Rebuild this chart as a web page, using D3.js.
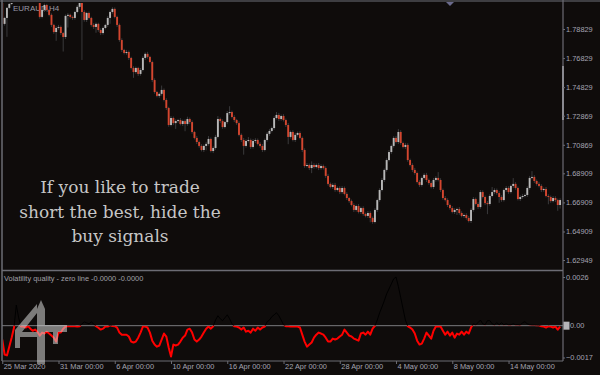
<!DOCTYPE html>
<html><head><meta charset="utf-8">
<script src="https://cdn.jsdelivr.net/npm/d3@7"></script>
<style>html,body{margin:0;padding:0;background:#0f0c0b;overflow:hidden}svg{display:block}</style>
</head><body><svg id="c" width="600" height="375"></svg>
<script>
// ---------- DATA ----------
const symbolLabel = "EURAUD,H4";
const indicatorTitle = "Volatility quality - zero line -0.0000 -0.0000";
const noteLines = ["If you like to trade", "short the best, hide the", "buy signals"];
const firstOpen = 1.8096;
const closes = [
1.7918,1.7959,1.8028,1.8055,1.8116,1.8151,1.8178,1.8206,1.8185,1.8220,
1.8247,1.8206,1.8165,1.8192,1.8151,1.8123,1.7966,1.8014,1.8048,1.8014,
1.7980,1.7911,1.7862,1.7890,1.7897,1.7855,1.7828,1.7973,1.7980,1.7966,
1.7959,1.8000,1.8035,1.8068,1.8000,1.7945,1.7993,1.7959,1.7911,1.7897,
1.7918,1.7876,1.7855,1.7890,1.7911,1.7959,1.8000,1.8021,1.7966,1.7911,
1.7807,1.7739,1.7718,1.7725,1.7684,1.7615,1.7587,1.7615,1.7574,1.7601,
1.7684,1.7712,1.7691,1.7656,1.7532,1.7450,1.7423,1.7437,1.7464,1.7395,
1.7340,1.7223,1.7271,1.7236,1.7250,1.7257,1.7230,1.7250,1.7230,1.7264,
1.7243,1.7175,1.7134,1.7106,1.7079,1.7051,1.7079,1.7093,1.7127,1.7044,
1.7065,1.7141,1.7264,1.7250,1.7209,1.7243,1.7305,1.7312,1.7278,1.7257,
1.7236,1.7155,1.7120,1.7079,1.7113,1.7120,1.7072,1.7113,1.7120,1.7093,
1.7079,1.7051,1.7120,1.7162,1.7182,1.7202,1.7271,1.7292,1.7264,1.7285,
1.7257,1.7223,1.7141,1.7175,1.7120,1.7155,1.7168,1.7134,1.7051,1.6941,
1.6948,1.6927,1.6948,1.6934,1.6948,1.6927,1.6941,1.6927,1.6873,1.6818,
1.6797,1.6811,1.6776,1.6790,1.6762,1.6790,1.6749,1.6721,1.6700,1.6673,
1.6639,1.6666,1.6625,1.6652,1.6611,1.6598,1.6618,1.6584,1.6556,1.6639,
1.6707,1.6776,1.6845,1.6914,1.6982,1.7037,1.7079,1.7134,1.7106,1.7175,
1.7099,1.7072,1.7086,1.6982,1.6948,1.6914,1.6893,1.6831,1.6811,1.6859,
1.6880,1.6845,1.6824,1.6797,1.6845,1.6859,1.6845,1.6776,1.6721,1.6707,
1.6673,1.6652,1.6625,1.6639,1.6645,1.6618,1.6598,1.6604,1.6584,1.6563,
1.6639,1.6714,1.6680,1.6659,1.6762,1.6728,1.6686,1.6680,1.6735,1.6762,
1.6776,1.6755,1.6728,1.6707,1.6776,1.6790,1.6762,1.6804,1.6818,1.6790,
1.6714,1.6728,1.6735,1.6742,1.6790,1.6859,1.6866,1.6838,1.6818,1.6804,
1.6776,1.6783,1.6735,1.6728,1.6700,1.6721,1.6707,1.6673,1.6707];
// upper / lower shadows in pips (0.0001)
const wickUp = [
5,8,6,10,8,6,10,6,8,6, 8,6,10,8,6,8,10,12,10,8, 6,10,8,12,14,10,8,10,12,8,
10,8,12,14,10,12,8,10,8,12, 10,8,12,10,8,14,10,12,10,8, 10,12,8,14,10,8,12,10,8,14,
12,10,14,8,10,12,8,10,30,10, 12,8,14,10,12,8,14,10,12,16, 10,12,8,14,10,12,10,14,20,10,
12,14,20,10,12,8,14,40,10,12, 8,12,10,14,12,20,10,14,12,10, 12,14,10,12,14,10,12,20,14,10,
12,10,14,10,12,14,10,12,10,12, 14,10,25,12,10,14,12,10,12,14, 10,12,14,10,12,14,10,12,8,10,
12,10,14,10,12,10,14,12,10,12, 10,12,14,10,12,14,10,12,14,20, 12,10,14,12,10,12,14,10,12,10,
12,14,10,12,14,12,40,12,10,14, 12,10,14,12,10,14,12,10,12,14, 12,14,10,12,14,12,10,14,12,35,
12,10,14,12,10,14,12,10,40,12, 10,12,14,10,12,14,40,12,10,14, 12,10,14,12,10,14,12,10,12];
const wickDn = [
10,12,130,10,8,10,8,10,8,10, 8,10,8,10,8,10,12,10,14,12, 10,14,12,60,12,14,100,14,80,12,
14,12,10,14,330,12,14,10,12,14, 40,12,14,12,10,14,40,12,10,14, 12,14,10,12,14,10,40,12,14,12,
10,14,12,10,14,12,10,14,12,10, 14,12,10,14,40,12,10,14,50,12, 14,12,10,14,12,10,14,30,12,10,
14,12,10,14,12,10,14,12,10,14, 12,10,14,60,12,10,14,12,14,10, 12,14,10,12,14,10,12,10,14,12,
10,14,50,12,10,14,12,10,14,12, 10,14,35,12,10,14,12,10,14,12, 10,14,12,10,14,12,10,14,12,10,
14,12,10,14,12,10,14,30,12,10, 14,12,10,14,12,10,14,12,10,14, 12,10,14,12,10,14,12,10,14,12,
10,14,12,10,14,12,10,14,12,10, 14,12,10,14,35,12,10,14,12,10, 14,12,10,14,12,10,14,70,12,10,
14,12,40,12,10,14,12,10,14,12, 10,14,12,10,14,12,10,14,12,10, 14,12,10,50,12,10,14,40,25];
// Volatility quality indicator values
const vq = [
-0.00074,-0.00154,-0.00159,-0.00112,-0.00064,-0.00011,0.0011,0.00042,-0.00005,-0.00005,
-0.0001,-0.00002,-0.00016,-0.00027,-0.00021,-0.00032,-0.00053,-0.00037,-0.00042,-0.00032,
-0.00042,-0.00053,-0.00064,-0.00085,-0.00037,-0.00037,-0.00016,-0.00005,-0.00003,-0.00003,
-0.00003,-0.00003,-0.00005,-0.00003,0.0001,0.0002,0.00015,0.0001,0.0002,0.0001,
-0.00003,-0.00011,-0.00021,-0.00016,-0.00005,-0.00005,0.00003,-0.00002,-0.00003,-0.0001,
-0.00037,-0.00048,-0.00048,-0.00048,-0.00058,-0.00085,-0.0009,-0.00085,-0.00064,-0.00037,
-0.00005,-0.00005,-0.0001,-0.00037,-0.0008,-0.00101,-0.00112,-0.00106,-0.00074,-0.00042,
-0.00058,-0.00117,-0.00165,-0.00101,-0.00106,-0.00101,-0.00085,-0.00064,-0.00053,-0.00021,
-0.00016,-0.00037,-0.00074,-0.00085,-0.00074,-0.00058,-0.00037,-0.00016,-0.00005,-0.00016,
-0.00003,0.0003,0.00053,0.00037,0.00027,0.00042,0.00058,0.00037,0.0001,-0.00003,
-0.00005,-0.0001,-0.00021,-0.0001,-0.00032,-0.00027,-0.00037,-0.00016,-0.00027,-0.0001,
-0.00021,-0.0001,-0.00005,0.00021,0.0003,0.00048,0.00058,0.00069,0.00053,0.0003,
0.00005,-0.00003,-0.00003,-0.00005,-0.00005,-0.00005,-0.00005,-0.0001,-0.00048,-0.00085,
-0.00112,-0.00101,-0.0009,-0.00064,-0.00048,-0.00037,-0.00042,-0.00048,-0.00064,-0.00085,
-0.00085,-0.00069,-0.00074,-0.00069,-0.00058,-0.00048,-0.00021,-0.00037,-0.00053,-0.00058,
-0.00069,-0.00074,-0.0008,-0.00042,-0.00037,-0.00048,-0.00032,-0.00048,-0.00016,-0.00001,
0.0003,0.00069,0.001,0.00133,0.0017,0.00196,0.00223,0.0025,0.0026,0.0021,
0.0015,0.0009,0.0003,-0.00002,-0.0001,-0.00021,-0.00042,-0.0008,-0.00101,-0.00096,
-0.00069,-0.00037,-0.00053,-0.00069,-0.00027,-0.00005,-0.00005,-0.00005,-0.00027,-0.00048,
-0.00032,-0.00053,-0.00037,-0.00064,-0.00042,-0.00048,-0.00032,-0.00048,-0.00032,-0.00042,
-0.0001,0.0001,0.00005,0.00016,0.0003,0.0001,0.00005,0.00027,0.00027,0.0001,
0.00005,0.00016,0.00005,0.00016,0.00005,0.0001,0.00005,0.00005,0.0001,0.00005,
0.00005,0.00003,0.00016,0.00021,0.0001,0.00005,0.00003,0.00003,0.00002,0.00002,
-0.00003,-0.00005,-0.0001,-0.00003,-0.00005,-0.0001,-0.00005,-0.00021,-0.00005];
const priceTicks = [1.78829,1.76829,1.74829,1.72869,1.70869,1.68909,1.66909,1.64909,1.62949];
const vqTicks = [0.0026, -0.0017];
const dateLabels = ["25 Mar 2020","31 Mar 00:00","6 Apr 00:00","10 Apr 00:00","16 Apr 00:00",
  "22 Apr 00:00","28 Apr 00:00","4 May 00:00","8 May 00:00","14 May 00:00"];
const dateLabelBars = [0,24,48,72,96,120,144,168,192,216];

// ---------- CHART ----------
const svg = d3.select("#c");
const BG = "#0f0c0b", AX = "#a4a4b2", BORDER = "#6c6c74";
const FONT = "'Liberation Sans', Arial, sans-serif";
const N = closes.length;
const opens = closes.map((c, i) => i === 0 ? firstOpen : closes[i - 1]);
const bars = closes.map((c, i) => {
  const o = opens[i];
  return {i, o, c, h: Math.max(o, c) + wickUp[i] * 1e-4, l: Math.min(o, c) - wickDn[i] * 1e-4};
});

const left = 2, right = 563, mainTop = 2, mainBot = 270, indTop = 271, indBot = 361;
const x = d3.scaleLinear().domain([0, N - 1]).range([2.25, 560.1]);
const y = d3.scaleLinear().domain([1.62949, 1.78829]).range([260, 29]);
const yi = d3.scaleLinear().domain([-0.0017, 0.0026]).range([357.5, 277]);

svg.append("rect").attr("width", 600).attr("height", 375).attr("fill", BG);

const defs = svg.append("defs");
defs.append("clipPath").attr("id", "mainClip").append("rect")
  .attr("x", left + 1).attr("y", mainTop + 1).attr("width", right - left - 1).attr("height", mainBot - mainTop - 2);
defs.append("clipPath").attr("id", "posClip").append("rect")
  .attr("x", left + 1).attr("y", indTop + 1).attr("width", right - left - 1).attr("height", yi(0) - indTop - 1);
defs.append("clipPath").attr("id", "negClip").append("rect")
  .attr("x", left + 1).attr("y", yi(0)).attr("width", right - left - 1).attr("height", indBot - yi(0));

// symbol label (under candles)
svg.append("text").attr("x", 13).attr("y", 11).attr("font-family", FONT).attr("font-size", 8)
  .attr("fill", "#9a9aa6").text(symbolLabel);

const main = svg.append("g").attr("clip-path", "url(#mainClip)");
main.selectAll("line.wick").data(bars).join("line").attr("class", "wick")
  .attr("x1", d => x(d.i)).attr("x2", d => x(d.i))
  .attr("y1", d => y(d.h)).attr("y2", d => y(d.l))
  .attr("stroke", "#3a3a3c").attr("stroke-width", 1);
main.selectAll("rect.body").data(bars).join("rect").attr("class", "body")
  .attr("x", d => x(d.i) - 0.95).attr("width", 1.9)
  .attr("y", d => y(Math.max(d.o, d.c)))
  .attr("height", d => Math.max(1, Math.abs(y(d.o) - y(d.c))))
  .attr("fill", d => d.c >= d.o ? "#b8b8b8" : "#d4462f");

// note text
const note = svg.append("text").attr("font-family", "'DejaVu Serif', serif").attr("font-size", 17)
  .attr("fill", "#c6c6c6").attr("text-anchor", "middle");
noteLines.forEach((t, k) => note.append("tspan").attr("x", 120).attr("y", 193 + k * 24.5).text(t));

// top marker
svg.append("path").attr("d", "M446,2L454,2L450,6Z").attr("fill", "#6a6a8c");

// borders
svg.append("rect").attr("x", 0).attr("y", 0).attr("width", 600).attr("height", 2).attr("fill", "#3e3e42");
svg.append("line").attr("x1", left).attr("x2", left).attr("y1", 0).attr("y2", indBot).attr("stroke", BORDER).attr("stroke-width", 1.5);
svg.append("line").attr("x1", right).attr("x2", right).attr("y1", 0).attr("y2", indBot).attr("stroke", BORDER).attr("stroke-width", 1.2);
svg.append("line").attr("x1", left).attr("x2", right).attr("y1", 270.5).attr("y2", 270.5).attr("stroke", BORDER).attr("stroke-width", 1.5);
svg.append("line").attr("x1", left).attr("x2", right).attr("y1", indBot).attr("y2", indBot).attr("stroke", BORDER).attr("stroke-width", 1.2);
svg.append("rect").attr("x", 562).attr("y", 66).attr("width", 2).attr("height", 54).attr("fill", "#8a8a90");

// price axis
const pa = svg.append("g").attr("transform", `translate(${right},0)`)
  .call(d3.axisRight(y).tickValues(priceTicks).tickFormat(d3.format(".5f")).tickSize(2).tickPadding(1));
// indicator axis
const ia = svg.append("g").attr("transform", `translate(${right},0)`)
  .call(d3.axisRight(yi).tickValues(vqTicks).tickFormat(d3.format(".4f")).tickSize(2).tickPadding(1));
// date axis
const da = svg.append("g").attr("transform", `translate(0,${indBot})`)
  .call(d3.axisBottom(x).tickValues(dateLabelBars).tickFormat((d, k) => dateLabels[k]).tickSize(3).tickPadding(0));
da.selectAll("text").attr("text-anchor", "start").attr("dx", 1);
[pa, ia, da].forEach(g => {
  g.select(".domain").remove();
  g.selectAll("line").attr("stroke", BORDER);
  g.selectAll("text").attr("fill", AX).attr("font-family", FONT).attr("font-size", 7.4);
});

// indicator panel
svg.append("text").attr("x", 4).attr("y", 280.5).attr("font-family", FONT).attr("font-size", 7.4)
  .attr("fill", "#a0a0a8").text(indicatorTitle);
svg.append("line").attr("x1", left).attr("x2", right).attr("y1", yi(0)).attr("y2", yi(0))
  .attr("stroke", "#7a7a7e").attr("stroke-width", 1);
const vline = d3.line().x((d, i) => x(i)).y(d => yi(d));
svg.append("path").datum(vq).attr("d", vline).attr("clip-path", "url(#posClip)")
  .attr("fill", "none").attr("stroke", "#000").attr("stroke-width", 1);
svg.append("path").datum(vq).attr("d", vline).attr("clip-path", "url(#negClip)")
  .attr("fill", "none").attr("stroke", "#ff0000").attr("stroke-width", 2).attr("stroke-linejoin", "round");
svg.append("rect").attr("x", 563.5).attr("y", yi(0) - 4).attr("width", 6).attr("height", 8).attr("fill", "#b4b4b8");
svg.append("text").attr("x", 570).attr("y", yi(0)).attr("dy", "0.35em").attr("font-family", FONT)
  .attr("font-size", 7.4).attr("fill", AX).text("0.00");

// watermark logo
const logo = svg.append("g").attr("fill", "rgba(215,215,215,0.55)");
logo.append("path").attr("d", "M37,309L41,300L45,309L45,364L37,364Z");
logo.append("path").attr("d", "M37,304L37,313L22,332L37,332L37,337L20,337L20,348L15,348L15,330Z");
logo.append("path").attr("d", "M45,325L67,325L67,332L58,332L58,344L53,344L53,332L45,332Z");
</script></body></html>
